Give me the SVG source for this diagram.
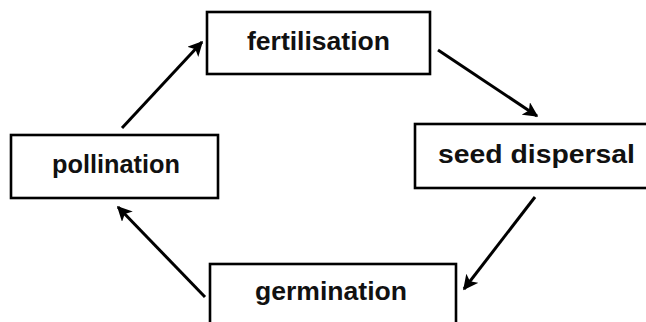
<svg xmlns="http://www.w3.org/2000/svg" width="646" height="322" viewBox="0 0 646 322">
<style>
.box{fill:#fff;stroke:#000;stroke-width:2.6}
.lbl{font-family:"Liberation Sans",Arial,sans-serif;font-size:25px;font-weight:bold;fill:#111;text-anchor:middle}
.arr{stroke:#000;stroke-width:3;fill:none;marker-end:url(#ah)}
</style>
<defs>
<marker id="ah" viewBox="0 0 10 10" refX="9" refY="5" markerWidth="5" markerHeight="5" orient="auto" markerUnits="strokeWidth">
<path d="M0,0 L10,5 L0,10 L2.5,5 z" fill="#000"/>
</marker>
</defs>
<rect width="646" height="322" fill="#fff"/>
<g id="connectors">
<line class="arr" x1="122" y1="128" x2="202" y2="42"/>
<line class="arr" x1="438" y1="50" x2="537" y2="116"/>
<line class="arr" x1="535" y1="197" x2="464" y2="289"/>
<line class="arr" x1="205" y1="297" x2="118" y2="207"/>
</g>
<g id="fertilisation">
<rect class="box" x="207" y="12" width="223" height="62"/>
<text class="lbl" x="318.5" y="50" textLength="143" lengthAdjust="spacingAndGlyphs">fertilisation</text>
</g>
<g id="seed-dispersal">
<rect class="box" x="415" y="124" width="240" height="64"/>
<text class="lbl" x="536.5" y="163" textLength="197" lengthAdjust="spacingAndGlyphs">seed dispersal</text>
</g>
<g id="germination">
<rect class="box" x="210" y="264" width="246" height="62"/>
<text class="lbl" x="331" y="300" textLength="152" lengthAdjust="spacingAndGlyphs">germination</text>
</g>
<g id="pollination">
<rect class="box" x="11" y="135" width="207" height="63"/>
<text class="lbl" x="116" y="173" textLength="128" lengthAdjust="spacingAndGlyphs">pollination</text>
</g>
</svg>
